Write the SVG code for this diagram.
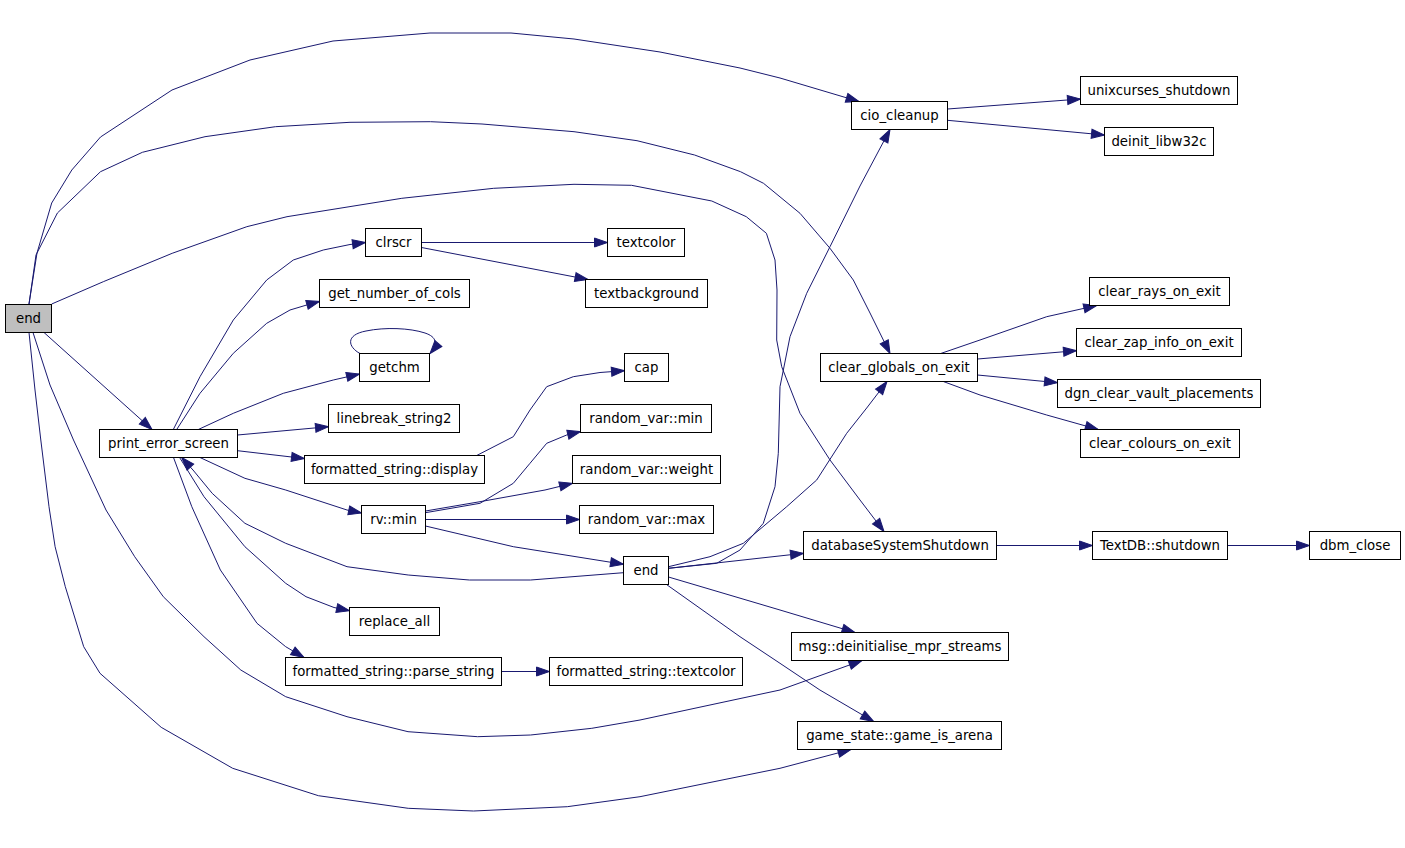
<svg xmlns="http://www.w3.org/2000/svg" width="1405" height="848" viewBox="0 0 1405 848">
<style>
.node rect{fill:#ffffff;stroke:#000000;stroke-width:1}
.node text{font-family:"DejaVu Sans","Liberation Sans",sans-serif;font-size:13.3px;text-anchor:middle;fill:#000000}
.edge path{fill:none;stroke:#191970;stroke-width:1;stroke-linejoin:round;marker-end:url(#arr)}
</style>
<defs>
<marker id="arr" markerUnits="userSpaceOnUse" markerWidth="14" markerHeight="10" refX="13" refY="4.5" orient="auto" overflow="visible">
<path d="M0,0 L13,4.5 L0,9 z" fill="#191970" stroke="#191970" stroke-width="1"/>
</marker>
</defs>
<rect x="0" y="0" width="1405" height="848" fill="#ffffff"/>
<g id="edges" class="edge">
<path d="M29,304 L37,253 L51.7,203 L71.8,170 L100.5,137 L172,90 L250,60 L333,41 L430,33 L511,33 L574,39 L660,52 L740,68 L780,78 L859,101.5"/>
<path d="M29,304 L36,255 L57.4,213 L100.5,171.7 L142.4,152.3 L205,136.7 L275.5,126.7 L350,122.3 L430.5,121.7 L482,124 L574,131.7 L637,140.7 L694.6,155 L740.5,171.7 L763.5,183.3 L800,213.3 L830,248.3 L853.3,280 L870,313 L890,353.5"/>
<path d="M51.7,304 L103.3,281.7 L172.2,253.3 L246.8,226.7 L287,216.7 L401.8,198.3 L493.7,188.3 L574,184.3 L631.5,185.3 L711.8,201 L746.3,216.7 L766.4,233.3 L775,260 L777,290 L776.7,340 L781.7,366.7 L800,413.3 L830,460 L860,500 L884,531.5"/>
<path d="M44,332.5 L152,429.5"/>
<path d="M33,332.5 L50,385 L73.5,440 L106,510 L134.7,556.7 L163.3,596.7 L204,636.7 L240.8,670 L285.7,696.7 L347,716.7 L408,731.7 L477.6,736.7 L530.6,735 L591.8,728.3 L640,720 L780,690 L862,660.5"/>
<path d="M29,332.5 L35,390 L40.8,440 L49,506.7 L55.1,546.7 L65.3,586.7 L83.7,646.7 L100,673.3 L161.2,727.3 L232.7,768.3 L318.4,795.7 L408.2,808.3 L473.5,811 L567.3,806.7 L640,796.7 L780,768.3 L851,749.5"/>
<path d="M173.3,429.5 L200,376.7 L233.3,320 L266.7,280 L293.3,260 L323.3,250 L350,244.5 L365.5,242.5"/>
<path d="M176.7,429.5 L200,393.3 L233.3,353.3 L266.7,323.3 L290,310 L305,305.5 L319.5,301.5"/>
<path d="M198.3,429.5 L233.3,413.3 L283.3,393.3 L333.3,380 L359.5,374"/>
<path d="M237.5,435 L328.5,426.7"/>
<path d="M237.5,450.7 L304.5,458.5"/>
<path d="M200,457.5 L244.9,478.3 L285.7,490 L347,510 L361.5,513"/>
<path d="M179.6,457.5 L204,496.7 L244.9,546.7 L285.7,583.3 L306,596.7 L334,607.5 L349.5,610.7"/>
<path d="M173.5,457.5 L191.8,506.7 L220.4,570 L257,623.3 L285.7,646.7 L304,657.5"/>
<path d="M623.5,572.7 L530.6,580 L469.4,580 L408.2,575 L347,566.7 L285.7,543.3 L244.9,523.3 L212.2,493.3 L193,470 L181.6,457.5"/>
<path d="M425.5,512.7 L480,503.3 L513.3,483.3 L530,463.3 L546.7,443.3 L566.7,435 L580.5,431.7"/>
<path d="M425.5,511 L480,501.7 L545,490 L572.5,483.3"/>
<path d="M425.5,519.5 L579.5,519.5"/>
<path d="M425.5,526 L513.3,546.7 L623.5,564.3"/>
<path d="M476.7,455.5 L513.3,436.7 L530,410 L546.7,386.7 L573.3,376.7 L600,372.5 L624.5,370.7"/>
<path d="M360,353.5 C348,347 345,335 366,331 C385,327 410,328 425,333 C437,337 438,344 430,353.5"/>
<path d="M421.5,242.5 L607.5,242.5"/>
<path d="M421.5,247.5 L588,279.5"/>
<path d="M501.5,671.5 L549.5,671.5"/>
<path d="M668.5,568.3 L716.7,563.3 L740,550 L763.3,523.3 L775,486.7 L778.3,453.3 L780,386.7 L790,336.7 L806.7,293.3 L830,246.7 L860,186 L890,129.5"/>
<path d="M668.5,566.7 L710,556.7 L743.3,543.3 L786.7,506.7 L816.7,480 L846.7,433.3 L866.7,408 L887,381.5"/>
<path d="M668.5,568.3 L803.5,553.3"/>
<path d="M668.5,577 L780,610 L855,632.5"/>
<path d="M666.5,584.5 L740,636.7 L780,663.3 L819.9,690 L873.7,721.5"/>
<path d="M947.5,109 L1080.5,99"/>
<path d="M947.5,120.3 L1104.5,135"/>
<path d="M940.7,353.5 L980,340 L1046.7,316.7 L1096.7,305.5"/>
<path d="M977.5,359 L1076.5,350.7"/>
<path d="M977.5,375 L1057.5,382.7"/>
<path d="M943.3,381.5 L980,395 L1046.7,415 L1098.3,429.5"/>
<path d="M996.5,545.5 L1092.5,545.5"/>
<path d="M1227.5,545.5 L1309.5,545.5"/>
</g>
<g id="n_end" class="node"><rect x="5.5" y="304.5" width="46" height="28" style="fill:#bfbfbf"/><text x="28.5" y="323">end</text></g>
<g id="n_print_error_screen" class="node"><rect x="99.5" y="429.5" width="138" height="28"/><text x="168.5" y="448">print_error_screen</text></g>
<g id="n_clrscr" class="node"><rect x="365.5" y="228.5" width="56" height="28"/><text x="393.5" y="247">clrscr</text></g>
<g id="n_get_number_of_cols" class="node"><rect x="319.5" y="279.5" width="150" height="28"/><text x="394.5" y="298">get_number_of_cols</text></g>
<g id="n_getchm" class="node"><rect x="359.5" y="353.5" width="70" height="28"/><text x="394.5" y="372">getchm</text></g>
<g id="n_linebreak_string2" class="node"><rect x="328.5" y="404.5" width="131" height="28"/><text x="394" y="423">linebreak_string2</text></g>
<g id="n_fs_display" class="node"><rect x="304.5" y="455.5" width="180" height="28"/><text x="394.5" y="474">formatted_string::display</text></g>
<g id="n_rv_min" class="node"><rect x="361.5" y="505.5" width="64" height="28"/><text x="393.5" y="524">rv::min</text></g>
<g id="n_replace_all" class="node"><rect x="349.5" y="607.5" width="90" height="28"/><text x="394.5" y="626">replace_all</text></g>
<g id="n_fs_parse_string" class="node"><rect x="285.5" y="657.5" width="216" height="28"/><text x="393.5" y="676">formatted_string::parse_string</text></g>
<g id="n_textcolor" class="node"><rect x="607.5" y="228.5" width="77" height="28"/><text x="646" y="247">textcolor</text></g>
<g id="n_textbackground" class="node"><rect x="585.5" y="279.5" width="122" height="28"/><text x="646.5" y="298">textbackground</text></g>
<g id="n_cap" class="node"><rect x="624.5" y="353.5" width="44" height="28"/><text x="646.5" y="372">cap</text></g>
<g id="n_random_var_min" class="node"><rect x="580.5" y="404.5" width="131" height="28"/><text x="646" y="423">random_var::min</text></g>
<g id="n_random_var_weight" class="node"><rect x="572.5" y="455.5" width="148" height="28"/><text x="646.5" y="474">random_var::weight</text></g>
<g id="n_random_var_max" class="node"><rect x="579.5" y="505.5" width="134" height="28"/><text x="646.5" y="524">random_var::max</text></g>
<g id="n_end2" class="node"><rect x="623.5" y="556.5" width="45" height="28"/><text x="646" y="575">end</text></g>
<g id="n_fs_textcolor" class="node"><rect x="549.5" y="657.5" width="193" height="28"/><text x="646" y="676">formatted_string::textcolor</text></g>
<g id="n_cio_cleanup" class="node"><rect x="851.5" y="101.5" width="96" height="28"/><text x="899.5" y="120">cio_cleanup</text></g>
<g id="n_clear_globals_on_exit" class="node"><rect x="820.5" y="353.5" width="157" height="28"/><text x="899" y="372">clear_globals_on_exit</text></g>
<g id="n_databaseSystemShutdown" class="node"><rect x="803.5" y="531.5" width="193" height="28"/><text x="900" y="550">databaseSystemShutdown</text></g>
<g id="n_msg_deinit" class="node"><rect x="791.5" y="632.5" width="217" height="28"/><text x="900" y="651">msg::deinitialise_mpr_streams</text></g>
<g id="n_game_is_arena" class="node"><rect x="797.5" y="721.5" width="204" height="28"/><text x="899.5" y="740">game_state::game_is_arena</text></g>
<g id="n_unixcurses_shutdown" class="node"><rect x="1080.5" y="76.5" width="157" height="28"/><text x="1159" y="95">unixcurses_shutdown</text></g>
<g id="n_deinit_libw32c" class="node"><rect x="1104.5" y="127.5" width="109" height="28"/><text x="1159" y="146">deinit_libw32c</text></g>
<g id="n_clear_rays_on_exit" class="node"><rect x="1089.5" y="277.5" width="140" height="28"/><text x="1159.5" y="296">clear_rays_on_exit</text></g>
<g id="n_clear_zap_info_on_exit" class="node"><rect x="1076.5" y="328.5" width="165" height="28"/><text x="1159" y="347">clear_zap_info_on_exit</text></g>
<g id="n_dgn_clear_vault_placements" class="node"><rect x="1057.5" y="379.5" width="203" height="28"/><text x="1159" y="398">dgn_clear_vault_placements</text></g>
<g id="n_clear_colours_on_exit" class="node"><rect x="1080.5" y="429.5" width="159" height="28"/><text x="1160" y="448">clear_colours_on_exit</text></g>
<g id="n_TextDB_shutdown" class="node"><rect x="1092.5" y="531.5" width="135" height="28"/><text x="1160" y="550">TextDB::shutdown</text></g>
<g id="n_dbm_close" class="node"><rect x="1309.5" y="531.5" width="91" height="28"/><text x="1355" y="550">dbm_close</text></g>
</svg>
